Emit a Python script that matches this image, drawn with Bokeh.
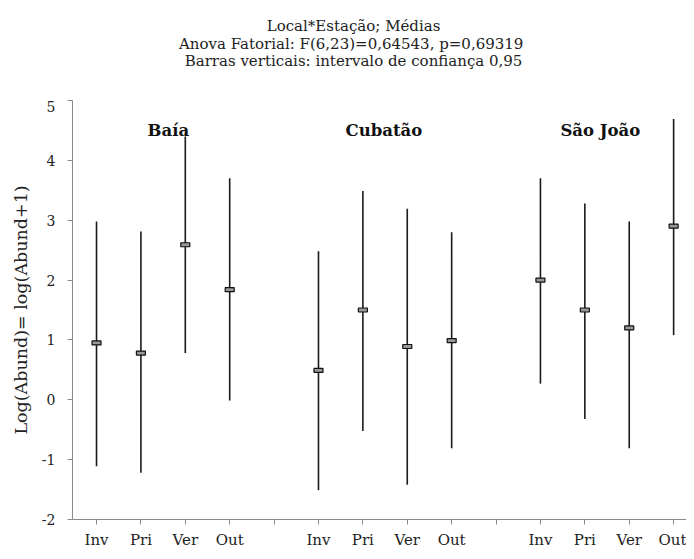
from bokeh.plotting import figure
from bokeh.models import FixedTicker, Label
from bokeh.layouts import column
from bokeh.embed import file_html
from bokeh.resources import INLINE

# ---- data ----
locais = ["Baía", "Cubatão", "São João"]
estacoes = ["Inv", "Pri", "Ver", "Out"]
media_baia = [0.95, 0.78, 2.59, 1.84]
inf_baia = [-1.11, -1.22, 0.78, -0.01]
sup_baia = [2.98, 2.81, 4.40, 3.70]
media_cubatao = [0.49, 1.50, 0.89, 0.99]
inf_cubatao = [-1.51, -0.52, -1.42, -0.81]
sup_cubatao = [2.48, 3.49, 3.19, 2.80]
media_sjoao = [2.00, 1.50, 1.20, 2.90]
inf_sjoao = [0.27, -0.32, -0.81, 1.08]
sup_sjoao = [3.70, 3.28, 2.98, 4.69]
y_ticks = [-2, -1, 0, 1, 2, 3, 4, 5]
titulo = ["Local*Estação; Médias",
          "Anova Fatorial:  F(6,23)=0,64543, p=0,69319",
          "Barras verticais: intervalo de confiança 0,95"]
y_label = "Log(Abund)= log(Abund+1)"

medias = [media_baia, media_cubatao, media_sjoao]
infs = [inf_baia, inf_cubatao, inf_sjoao]
sups = [sup_baia, sup_cubatao, sup_sjoao]

FONT = "DejaVu Serif"
W = 686

# ---- title panel (a small figure whose frame holds the three title lines) ----
t = figure(width=W, height=100, output_backend="svg", toolbar_location=None,
           x_range=(0, W), y_range=(100, 0), x_axis_location=None, y_axis_location=None,
           min_border_left=0, min_border_right=0, min_border_top=0, min_border_bottom=0)
t.outline_line_color = None
t.xgrid.visible = False
t.ygrid.visible = False
t.border_fill_color = "white"
title_y = [25, 43, 60]
for txt, ty in zip(titulo, title_y):
    t.add_layout(Label(x=314, y=ty, text=txt, text_font=FONT, text_font_size="15px",
                       text_color="#222222", text_baseline="middle", text_align="center"))

# ---- main chart ----
xs, ms, los, his = [], [], [], []
overrides = {}
for g in range(len(locais)):
    for s in range(len(estacoes)):
        x = g * 5 + s + 1
        xs.append(x)
        ms.append(medias[g][s])
        los.append(infs[g][s])
        his.append(sups[g][s])
        overrides[x] = estacoes[s]
for g in range(1, len(locais)):
    overrides[g * 5] = ""

p = figure(width=W, height=451, output_backend="svg", toolbar_location=None,
           x_range=(0.459, 14.29), y_range=(-2, 5),
           min_border_left=72, min_border_right=0, min_border_top=0, min_border_bottom=29)
p.outline_line_color = None
p.xgrid.visible = False
p.ygrid.visible = False
p.background_fill_color = "white"
p.border_fill_color = "white"

p.segment(x0=xs, y0=los, x1=xs, y1=his, line_color="#1a1a1a", line_width=1.6)
p.rect(x=xs, y=ms, width=9, height=4, width_units="screen", height_units="screen",
       fill_color="#999999", line_color="#111111", line_width=1.2)

p.xaxis.ticker = FixedTicker(ticks=sorted(overrides.keys()))
p.xaxis.major_label_overrides = {k: v for k, v in overrides.items()}
p.yaxis.ticker = FixedTicker(ticks=y_ticks)
p.yaxis.major_label_overrides = {tk: str(tk) for tk in y_ticks}
for ax in (p.xaxis[0], p.yaxis[0]):
    ax.axis_line_color = "#8a8a8a"
    ax.major_tick_line_color = "#8a8a8a"
    ax.minor_tick_line_color = None
    ax.major_tick_in = 0
    ax.major_tick_out = 5
    ax.major_label_text_font = FONT
    ax.major_label_text_font_size = "14px"
    ax.major_label_text_color = "#222222"
p.xaxis.major_label_text_font_size = "15px"
p.xaxis.major_label_standoff = 6
p.yaxis.major_label_standoff = 12
p.yaxis.axis_label = y_label
p.yaxis.axis_label_text_font = FONT
p.yaxis.axis_label_text_font_size = "17.5px"
p.yaxis.axis_label_text_font_style = "normal"
p.yaxis.axis_label_text_color = "#222222"
p.yaxis.axis_label_standoff = 8

grupo_x = [2.15, 6.61, 11.45]
for name, gx in zip(locais, grupo_x):
    p.add_layout(Label(x=gx, y=4.5, text=name, text_font=FONT, text_font_size="16.5px",
                       text_font_style="bold", text_color="#111111",
                       text_baseline="alphabetic", text_align="left"))

layout = column(t, p, spacing=0)
open("out.html", "w").write(file_html(layout, INLINE))
